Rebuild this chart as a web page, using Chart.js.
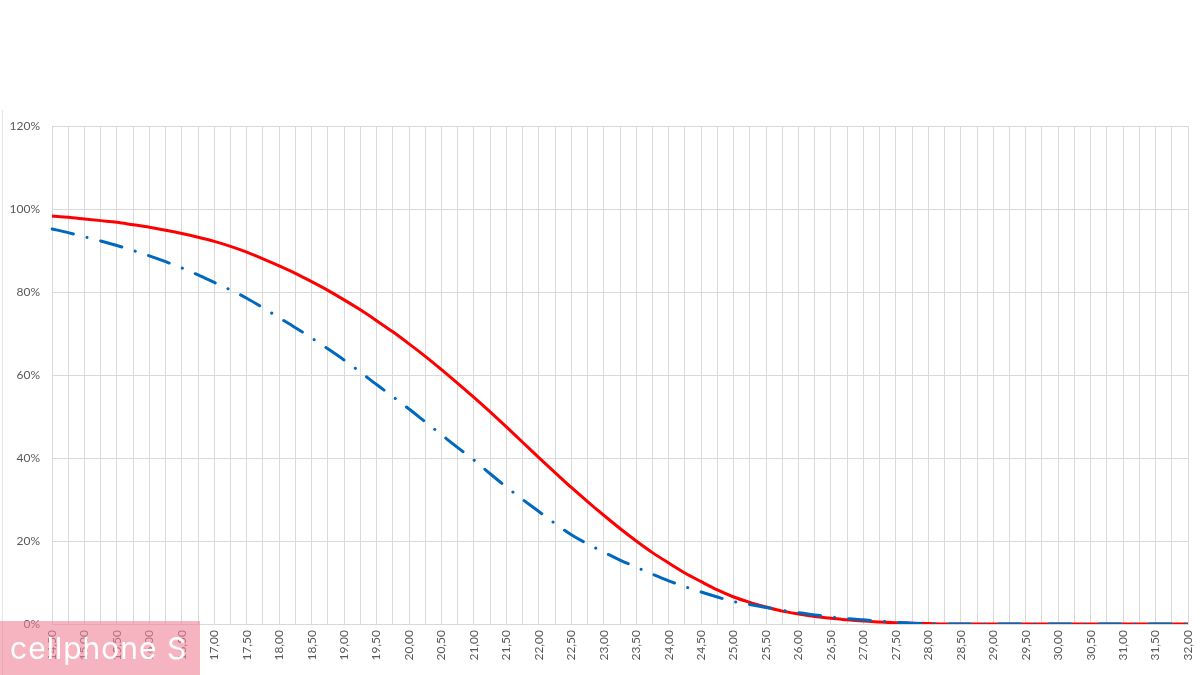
<!DOCTYPE html>
<html>
<head>
<meta charset="utf-8">
<script src="https://cdn.jsdelivr.net/npm/chart.js@4"></script>
<style>
    html, body { margin: 0; padding: 0; background: #ffffff; }
    .wrap { position: relative; width: 1200px; height: 675px; overflow: hidden; }
    .edge { position: absolute; left: 2px; top: 110px; width: 1px; height: 565px; background: #e4e4e4; }
    .badge {
        position: absolute; left: 0; top: 621px; width: 200px; height: 54px;
        background: rgba(240, 128, 150, 0.6);
        color: #ffffff; font-family: Inter, "Noto Sans", sans-serif;
        font-size: 30px; line-height: 54px; padding-left: 10px; box-sizing: border-box;
        letter-spacing: 1px;
    }
</style>
</head>
<body>
<div class="wrap">
    <canvas id="chart" width="1200" height="675"></canvas>
    <div class="edge"></div>
    <div class="badge">cellphone S</div>
</div>
<script>
// x categories (every 0.25, label shown every 0.5)
const categories = [
    14.50, 14.75, 15.00, 15.25, 15.50, 15.75, 16.00, 16.25, 16.50, 16.75,
    17.00, 17.25, 17.50, 17.75, 18.00, 18.25, 18.50, 18.75, 19.00, 19.25,
    19.50, 19.75, 20.00, 20.25, 20.50, 20.75, 21.00, 21.25, 21.50, 21.75,
    22.00, 22.25, 22.50, 22.75, 23.00, 23.25, 23.50, 23.75, 24.00, 24.25,
    24.50, 24.75, 25.00, 25.25, 25.50, 25.75, 26.00, 26.25, 26.50, 26.75,
    27.00, 27.25, 27.50, 27.75, 28.00, 28.25, 28.50, 28.75, 29.00, 29.25,
    29.50, 29.75, 30.00, 30.25, 30.50, 30.75, 31.00, 31.25, 31.50, 31.75,
    32.00
];

// red solid series (fraction)
const redSeries = [
    0.983, 0.980, 0.976, 0.972, 0.968, 0.962, 0.956, 0.949, 0.941, 0.932,
    0.922, 0.910, 0.896, 0.880, 0.863, 0.845, 0.825, 0.804, 0.781, 0.757,
    0.731, 0.704, 0.675, 0.645, 0.613, 0.580, 0.546, 0.511, 0.475, 0.438,
    0.401, 0.365, 0.329, 0.295, 0.262, 0.230, 0.200, 0.172, 0.147, 0.123,
    0.102, 0.082, 0.065, 0.052, 0.041, 0.031, 0.024, 0.018, 0.014, 0.010,
    0.007, 0.005, 0.003, 0.002, 0.001, 0, 0, 0, 0, 0,
    0, 0, 0, 0, 0, 0, 0, 0, 0, 0,
    0
];

// blue dash-dot series (fraction)
const blueSeries = [
    0.952, 0.943, 0.933, 0.923, 0.912, 0.900, 0.887, 0.873, 0.858, 0.841,
    0.823, 0.805, 0.785, 0.762, 0.738, 0.714, 0.689, 0.663, 0.636, 0.607,
    0.577, 0.548, 0.518, 0.487, 0.456, 0.425, 0.395, 0.362, 0.330, 0.300,
    0.271, 0.242, 0.215, 0.193, 0.173, 0.154, 0.137, 0.120, 0.104, 0.090,
    0.077, 0.065, 0.054, 0.047, 0.040, 0.033, 0.027, 0.022, 0.017, 0.013,
    0.010, 0.007, 0.004, 0.002, 0.001, 0, 0, 0, 0, 0,
    0, 0, 0, 0, 0, 0, 0, 0, 0, 0,
    0
];

const yTicks = [0, 0.2, 0.4, 0.6, 0.8, 1.0, 1.2];

const labels = categories.map(v => v.toFixed(2).replace('.', ','));
const tickFont = { family: 'Lato, "Open Sans", sans-serif', size: 12 };
const gridColor = '#d9d9d9';

new Chart(document.getElementById('chart').getContext('2d'), {
    type: 'line',
    data: {
        labels: labels,
        datasets: [
            {
                label: 'blue',
                data: blueSeries,
                borderColor: '#0068bd',
                borderWidth: 3,
                borderDash: [22, 14, 0.1, 14],
                borderCapStyle: 'round',
                pointRadius: 0,
                fill: false,
                cubicInterpolationMode: 'monotone'
            },
            {
                label: 'red',
                data: redSeries,
                borderColor: '#ff0000',
                borderWidth: 3,
                pointRadius: 0,
                fill: false,
                cubicInterpolationMode: 'monotone'
            }
        ]
    },
    options: {
        responsive: false,
        animation: false,
        layout: { padding: { top: 126, left: 4, right: 12, bottom: 0 } },
        plugins: {
            legend: { display: false },
            tooltip: { enabled: false }
        },
        scales: {
            x: {
                offset: false,
                grid: { color: gridColor, drawTicks: false },
                border: { color: gridColor },
                ticks: {
                    autoSkip: false,
                    maxRotation: 90,
                    minRotation: 90,
                    padding: 6,
                    color: '#595959',
                    font: tickFont,
                    callback: (val, i) => (i % 2 === 0 ? labels[i] : '')
                },
                afterFit: scale => {
                    scale.height = 51;
                    scale.paddingRight = 0;
                    scale.paddingLeft = 0;
                }
            },
            y: {
                min: 0,
                max: 1.2,
                afterBuildTicks: scale => { scale.ticks = yTicks.map(v => ({ value: v })); },
                grid: { color: gridColor, drawTicks: false },
                border: { display: false },
                ticks: {
                    padding: 12,
                    color: '#595959',
                    font: tickFont,
                    callback: v => Math.round(v * 100) + '%'
                },
                afterFit: scale => { scale.width = 48; }
            }
        }
    }
});
</script>
</body>
</html>
